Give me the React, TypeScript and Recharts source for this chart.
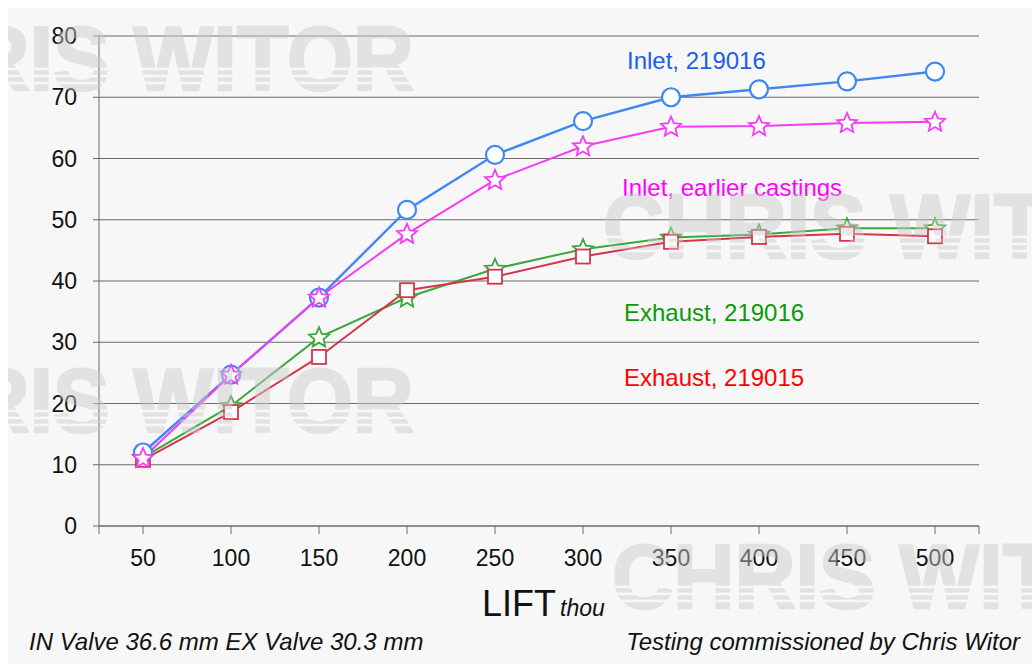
import React from 'react';
import { LineChart, Line, XAxis, YAxis, CartesianGrid } from 'recharts';

const liftCategories = ['50', '100', '150', '200', '250', '300', '350', '400', '450', '500'];
const inlet219016 = [12.0, 24.7, 37.3, 51.6, 60.6, 66.1, 70.0, 71.3, 72.6, 74.2];
const inletEarlier = [11.1, 24.7, 37.3, 47.7, 56.5, 62.0, 65.2, 65.3, 65.8, 66.0];
const exhaust219016 = [11.2, 19.6, 30.8, 37.3, 42.0, 45.2, 47.1, 47.6, 48.6, 48.6];
const exhaust219015 = [10.8, 18.6, 27.6, 38.5, 40.7, 44.0, 46.4, 47.2, 47.7, 47.3];
const yTicks = [0, 10, 20, 30, 40, 50, 60, 70, 80];

const rows = liftCategories.map((lift, i) => ({
  lift,
  inlet219016: inlet219016[i],
  inletEarlier: inletEarlier[i],
  exhaust219016: exhaust219016[i],
  exhaust219015: exhaust219015[i],
}));

const FONT = "'Liberation Sans', Arial, Helvetica, sans-serif";
const GRID = '#6a6a6a';

const W = 1024;
const H = 656;
const M = { top: 28, right: 53, bottom: 98, left: 0 };
const Y_AXIS_W = 91;
const X_AXIS_H = 40;
const plotLeft = M.left + Y_AXIS_W;
const plotRight = W - M.right;
const plotBottom = H - M.bottom - X_AXIS_H;
const halfBand = (plotRight - plotLeft) / liftCategories.length / 2;

function starPath(cx: number, cy: number, R: number, r: number) {
  let d = '';
  for (let k = 0; k < 10; k++) {
    const a = ((-90 + k * 36) * Math.PI) / 180;
    const rad = k % 2 === 0 ? R : r;
    const x = cx + rad * Math.cos(a);
    const y = cy + rad * Math.sin(a);
    d += (k === 0 ? 'M' : 'L') + x.toFixed(2) + ',' + y.toFixed(2);
  }
  return d + 'Z';
}

const circleDot = (color: string) => (p: any) => {
  if (p.cx == null || p.cy == null) return <g key={'c' + p.index} />;
  return <circle key={'c' + p.index} cx={p.cx} cy={p.cy} r={9} fill="#ffffff" stroke={color} strokeWidth={2.2} />;
};
const starDot = (color: string) => (p: any) => {
  if (p.cx == null || p.cy == null) return <g key={'s' + p.index} />;
  return (
    <path key={'s' + p.index} d={starPath(p.cx, p.cy + 0.5, 10.5, 4.8)} fill="#ffffff" stroke={color} strokeWidth={1.8} strokeLinejoin="miter" />
  );
};
const squareDot = (color: string) => (p: any) => {
  if (p.cx == null || p.cy == null) return <g key={'q' + p.index} />;
  return <rect key={'q' + p.index} x={p.cx - 7} y={p.cy - 7} width={14} height={14} fill="#ffffff" stroke={color} strokeWidth={1.8} />;
};

const watermarks = [
  { x: -162, y: 82 },
  { x: -162, y: 424 },
  { x: 595, y: 250 },
  { x: 604, y: 600 },
];
const stripeOffsets = [21, 14, 7];

export default function App() {
  return (
    <div style={{ padding: '8px 0 0 8px' }}>
      <style>{'body{margin:0;overflow:hidden;}'}</style>
      <div style={{ position: 'relative', width: W, height: H, background: '#f7f7f7', overflow: 'hidden' }}>
        <LineChart width={W} height={H} data={rows} margin={M}>
          <CartesianGrid yAxisId="l" vertical={false} stroke={GRID} strokeWidth={1} />
          <XAxis
            dataKey="lift"
            interval={0}
            height={X_AXIS_H}
            padding={{ left: halfBand, right: halfBand }}
            tickSize={8}
            tickMargin={16}
            axisLine={{ stroke: GRID }}
            tickLine={{ stroke: GRID }}
            tick={{ fontSize: 23, fill: '#111', fontFamily: FONT }}
          />
          <YAxis
            yAxisId="l"
            width={Y_AXIS_W}
            domain={[0, 80]}
            ticks={yTicks}
            interval={0}
            tickSize={6}
            tickMargin={16}
            axisLine={{ stroke: GRID }}
            tickLine={{ stroke: GRID }}
            tick={{ fontSize: 23, fill: '#111', fontFamily: FONT }}
          />
          <YAxis yAxisId="r" orientation="right" width={0} domain={[0, 80]} tick={false} tickLine={false} axisLine={{ stroke: GRID }} />
          <Line yAxisId="l" type="linear" dataKey="exhaust219016" stroke="#3aa83a" strokeWidth={2} dot={starDot('#3aa83a')} isAnimationActive={false} />
          <Line yAxisId="l" type="linear" dataKey="exhaust219015" stroke="#d6344d" strokeWidth={2} dot={squareDot('#d6344d')} isAnimationActive={false} />
          <Line yAxisId="l" type="linear" dataKey="inlet219016" stroke="#3f88f2" strokeWidth={2.4} dot={circleDot('#3f88f2')} isAnimationActive={false} />
          <Line yAxisId="l" type="linear" dataKey="inletEarlier" stroke="#f53cf5" strokeWidth={2} dot={starDot('#f53cf5')} isAnimationActive={false} />
        </LineChart>

        <svg width={W} height={H} style={{ position: 'absolute', left: 0, top: 0, pointerEvents: 'none' }}>
          <line x1={plotLeft} x2={plotLeft} y1={plotBottom} y2={plotBottom + 8} stroke={GRID} strokeWidth={1} />
          <line x1={plotRight} x2={plotRight} y1={plotBottom} y2={plotBottom + 8} stroke={GRID} strokeWidth={1} />

          <g fontFamily={FONT} fontSize={24}>
            <text x={619} y={61} fill="#1c5cf0">Inlet, 219016</text>
            <text x={614} y={188} fill="#ff00ff">Inlet, earlier castings</text>
            <text x={616} y={313} fill="#0a9a0a">Exhaust, 219016</text>
            <text x={616} y={378} fill="#ff0000">Exhaust, 219015</text>
          </g>

          <text x={474} y={608} fontFamily={FONT} fontSize={36} fill="#111">LIFT</text>
          <text x={552} y={608} fontFamily={FONT} fontSize={23} fontStyle="italic" fill="#111">thou</text>

          <text x={21} y={642} fontFamily={FONT} fontSize={24} fontStyle="italic" fill="#111">IN Valve 36.6 mm EX Valve 30.3 mm</text>
          <text x={1012} y={642} fontFamily={FONT} fontSize={24} fontStyle="italic" fill="#111" textAnchor="end">Testing commissioned by Chris Witor</text>

          <defs>
            <mask id="wmStripes" maskUnits="userSpaceOnUse" x={-400} y={0} width={W + 800} height={H}>
              <rect x={-400} y={0} width={W + 800} height={H} fill="#fff" />
              {watermarks.map((w, i) =>
                stripeOffsets.map((o, j) => (
                  <rect key={i + '-' + j} x={-400} y={w.y - o - 1.3} width={W + 800} height={2.6} fill="#000" />
                ))
              )}
            </mask>
          </defs>
          <g mask="url(#wmStripes)" opacity={0.47}>
            {watermarks.map((w, i) => (
              <text
                key={i}
                x={w.x}
                y={w.y}
                fontFamily={FONT}
                fontWeight="bold"
                fontSize={90}
                fill="#cccccc"
                stroke="#cccccc"
                strokeWidth={2.5}
                strokeLinejoin="round"
                textLength={568}
                lengthAdjust="spacingAndGlyphs"
              >
                CHRIS WITOR
              </text>
            ))}
          </g>
        </svg>
      </div>
    </div>
  );
}
